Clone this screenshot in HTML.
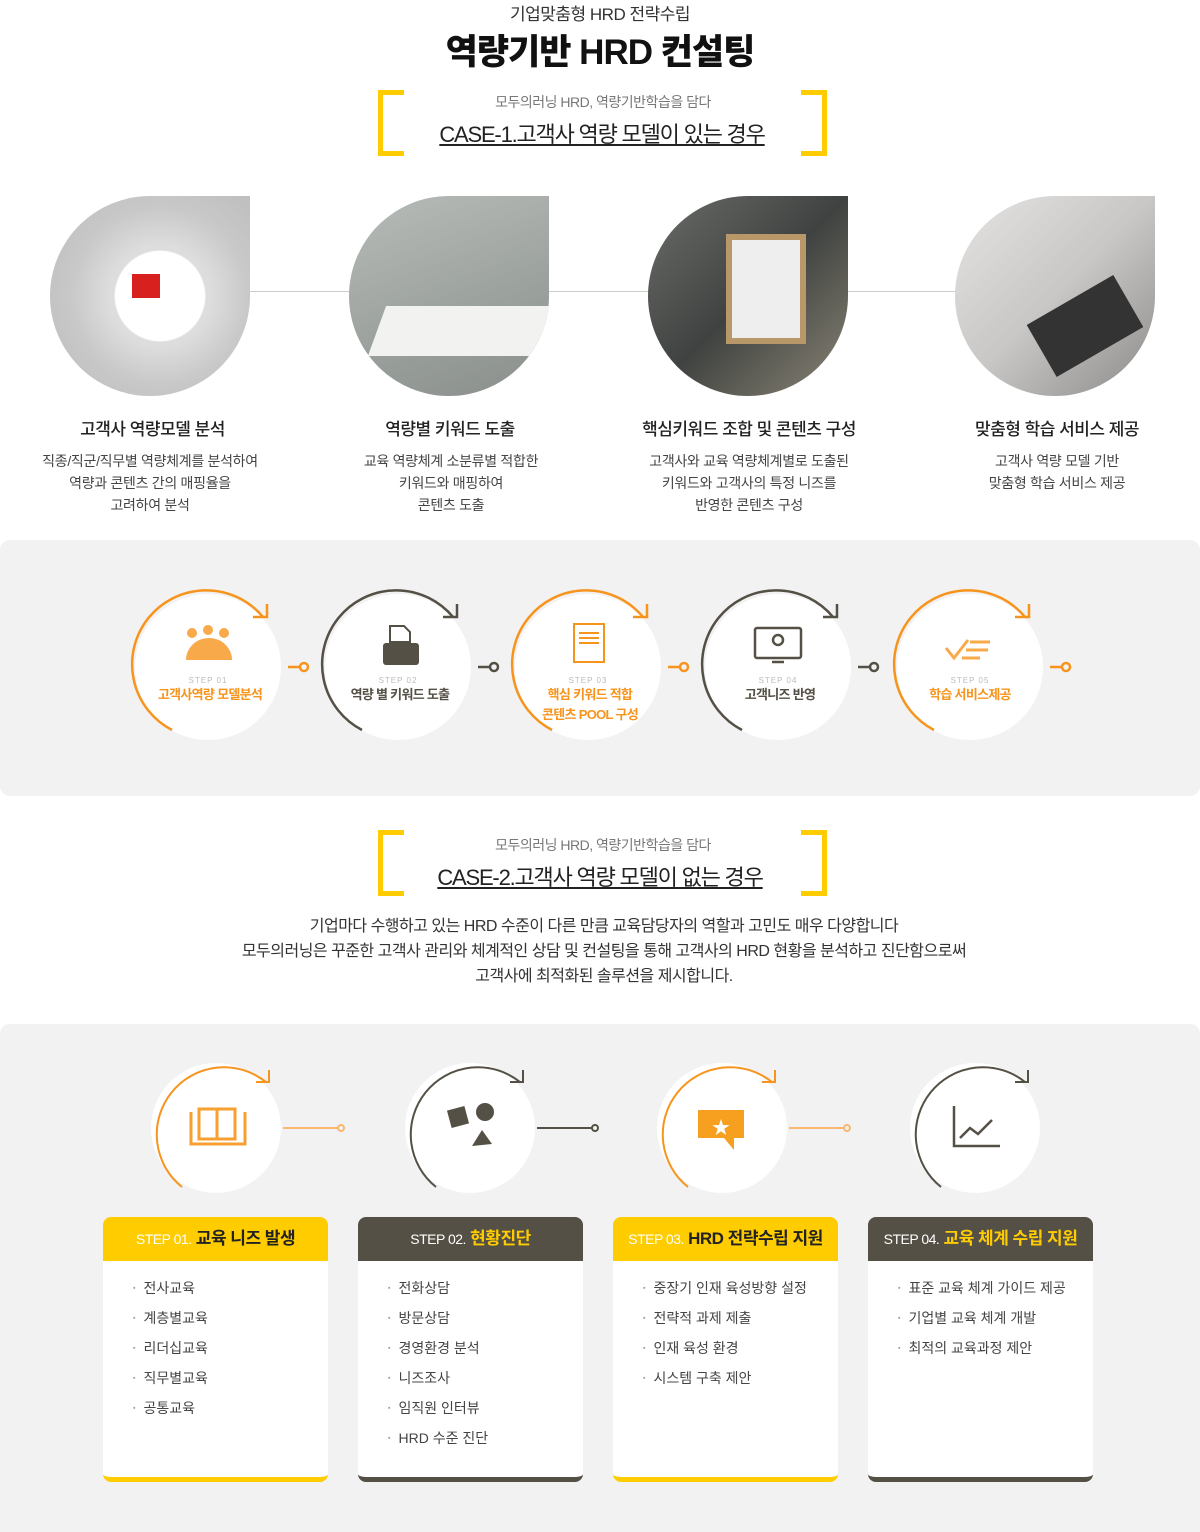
<!DOCTYPE html>
<html><head><meta charset="utf-8"><style>
*{margin:0;padding:0;box-sizing:border-box}
body{width:1200px;height:1532px;background:#fff;font-family:"Liberation Sans","Noto Sans CJK KR",sans-serif;color:#333;position:relative;overflow:hidden}
.a{position:absolute}
.c{text-align:center}
.br{position:absolute;width:26px;height:66px;border:5px solid #ffcc00}
.photo{position:absolute;width:200px;height:200px;border-radius:50% 0 50% 50%;overflow:hidden}
.t1{font-size:17px;color:#222;font-weight:500;letter-spacing:-.5px}
.d1{font-size:14px;color:#444;line-height:22px;letter-spacing:-.3px}
.card{position:absolute;width:225px;height:265px;border-radius:8px;overflow:hidden;background:#fff}
.card .h{height:44px;line-height:44px;text-align:center;font-size:17px;font-weight:700;letter-spacing:-.5px}
.card .h small{font-size:14px;font-weight:400;color:#fff;letter-spacing:-.5px}
.card ul{list-style:none;padding:18px 0 0 30px;font-size:14px;color:#444}
.card li{height:30px;line-height:18px}
.card li:before{content:"▪";font-size:7px;color:#999;margin-right:8px;vertical-align:middle}
</style></head><body>

<div class="a c" style="left:0;width:1200px;top:0;font-size:17px;color:#333;letter-spacing:-.5px">기업맞춤형 HRD 전략수립</div>
<div class="a c" style="left:0;width:1200px;top:24px;font-size:35px;font-weight:900;color:#111;letter-spacing:-1px">역량기반 HRD 컨설팅</div>

<div class="br" style="left:378px;top:90px;border-right:none"></div>
<div class="br" style="left:801px;top:90px;border-left:none"></div>
<div class="a c" style="left:0;width:1206px;top:92px;font-size:14px;color:#777;letter-spacing:-.5px">모두의러닝 HRD, 역량기반학습을 담다</div>
<div class="a c" style="left:0;width:1204px;top:117px;font-size:22px;color:#222;text-decoration:underline;letter-spacing:-1.2px">CASE-1.고객사 역량 모델이 있는 경우</div>

<div class="a" style="left:250px;top:291px;width:710px;height:1px;background:#ccc"></div>
<div class="photo" style="left:50px;top:196px;background:radial-gradient(circle at 55% 50%,#fff 0 30%,#ddd 31% 34%,#c8c8c8 60%,#bbb)"><div class="a" style="left:82px;top:78px;width:28px;height:24px;background:#d8201f"></div></div>
<div class="photo" style="left:349px;top:196px;background:linear-gradient(160deg,#b8bcb8,#9aa09c 60%,#8a8f8b)"><div class="a" style="left:28px;top:110px;width:175px;height:50px;background:#f2f2f0;transform:skewX(-20deg)"></div></div>
<div class="photo" style="left:648px;top:196px;background:linear-gradient(135deg,#6b6d6a,#3f4240 50%,#8a8576)"><div class="a" style="left:78px;top:38px;width:80px;height:110px;background:#eee;border:6px solid #b89868"></div></div>
<div class="photo" style="left:955px;top:196px;background:linear-gradient(135deg,#e5e4e2,#c9c7c5 50%,#8b8a88)"><div class="a" style="left:80px;top:100px;width:100px;height:60px;background:#333;transform:rotate(-30deg)"></div></div>

<div class="a c t1" style="left:50px;width:205px;top:415px">고객사 역량모델 분석</div>
<div class="a c d1" style="left:0;width:300px;top:450px">직종/직군/직무별 역량체계를 분석하여<br>역량과 콘텐츠 간의 매핑율을<br>고려하여 분석</div>
<div class="a c t1" style="left:300px;width:300px;top:415px">역량별 키워드 도출</div>
<div class="a c d1" style="left:300px;width:302px;top:450px">교육 역량체계 소분류별 적합한<br>키워드와 매핑하여<br>콘텐츠 도출</div>
<div class="a c t1" style="left:599px;width:300px;top:415px">핵심키워드 조합 및 콘텐츠 구성</div>
<div class="a c d1" style="left:599px;width:300px;top:450px">고객사와 교육 역량체계별로 도출된<br>키워드와 고객사의 특정 니즈를<br>반영한 콘텐츠 구성</div>
<div class="a c t1" style="left:907px;width:300px;top:415px">맞춤형 학습 서비스 제공</div>
<div class="a c d1" style="left:907px;width:300px;top:450px">고객사 역량 모델 기반<br>맞춤형 학습 서비스 제공</div>

<div class="a" style="left:0;top:540px;width:1200px;height:256px;background:#f2f2f2;border-radius:10px"></div>
<svg class="a" style="left:0;top:540px" width="1200" height="256">
<g fill="none" stroke-width="2.5">
<g transform="translate(208,127)"><circle r="73" fill="#fff" stroke="none"/><path d="M-36,63 A74,74 0 1 1 55,-50" stroke="#f7941d"/><path d="M45,-50 L59,-50 L59,-63" stroke="#f7941d"/><path d="M80,0 h12" stroke="#f7941d"/><circle cx="96" cy="0" r="4" stroke="#f7941d"/></g>
<g transform="translate(398,127)"><circle r="73" fill="#fff" stroke="none"/><path d="M-36,63 A74,74 0 1 1 55,-50" stroke="#555045"/><path d="M45,-50 L59,-50 L59,-63" stroke="#555045"/><path d="M80,0 h12" stroke="#555045"/><circle cx="96" cy="0" r="4" stroke="#555045"/></g>
<g transform="translate(588,127)"><circle r="73" fill="#fff" stroke="none"/><path d="M-36,63 A74,74 0 1 1 55,-50" stroke="#f7941d"/><path d="M45,-50 L59,-50 L59,-63" stroke="#f7941d"/><path d="M80,0 h12" stroke="#f7941d"/><circle cx="96" cy="0" r="4" stroke="#f7941d"/></g>
<g transform="translate(778,127)"><circle r="73" fill="#fff" stroke="none"/><path d="M-36,63 A74,74 0 1 1 55,-50" stroke="#555045"/><path d="M45,-50 L59,-50 L59,-63" stroke="#555045"/><path d="M80,0 h12" stroke="#555045"/><circle cx="96" cy="0" r="4" stroke="#555045"/></g>
<g transform="translate(970,127)"><circle r="73" fill="#fff" stroke="none"/><path d="M-36,63 A74,74 0 1 1 55,-50" stroke="#f7941d"/><path d="M45,-50 L59,-50 L59,-63" stroke="#f7941d"/><path d="M80,0 h12" stroke="#f7941d"/><circle cx="96" cy="0" r="4" stroke="#f7941d"/></g>
</g>
<g fill="#f8a94a"><circle cx="192" cy="93" r="5"/><circle cx="208" cy="90" r="5"/><circle cx="224" cy="93" r="5"/><path d="M186,120 A23,22 0 0 1 232,120 Z"/></g>
<g fill="#555045"><rect x="383" y="103" width="36" height="22" rx="3"/><path d="M390,86 h14 l6,6 v10 h-20z" fill="none" stroke="#555045" stroke-width="2"/></g>
<g fill="none" stroke="#f7941d" stroke-width="2"><rect x="574" y="84" width="30" height="38"/><path d="M579,93 h20 M579,98 h20 M579,103 h20"/></g>
<g fill="none" stroke="#555045" stroke-width="2.5"><rect x="755" y="88" width="46" height="30" rx="2"/><path d="M772,122 h12"/><circle cx="778" cy="100" r="5"/></g>
<g fill="none" stroke="#f8a94a" stroke-width="3"><path d="M946,108 l8,10 l14,-18"/><path d="M970,102 h20 M966,110 h22 M962,118 h18"/></g>
<g font-size="8" fill="#bbb" text-anchor="middle" letter-spacing="1"><text x="208" y="143">STEP 01</text><text x="398" y="143">STEP 02</text><text x="588" y="143">STEP 03</text><text x="778" y="143">STEP 04</text><text x="970" y="143">STEP 05</text></g>
<g font-size="13" font-weight="700" text-anchor="middle" letter-spacing="-.7"><text x="210" y="159" fill="#f7941d">고객사역량 모델분석</text><text x="400" y="159" fill="#555045">역량 별 키워드 도출</text><text x="590" y="159" fill="#f7941d">핵심 키워드 적합</text><text x="590" y="179" fill="#f7941d">콘텐츠 POOL 구성</text><text x="780" y="159" fill="#555045">고객니즈 반영</text><text x="970" y="159" fill="#f7941d">학습 서비스제공</text></g>
</svg>

<div class="br" style="left:378px;top:830px;border-right:none"></div>
<div class="br" style="left:801px;top:830px;border-left:none"></div>
<div class="a c" style="left:0;width:1206px;top:835px;font-size:14px;color:#777;letter-spacing:-.5px">모두의러닝 HRD, 역량기반학습을 담다</div>
<div class="a c" style="left:0;width:1200px;top:860px;font-size:22px;color:#222;text-decoration:underline;letter-spacing:-1.2px">CASE-2.고객사 역량 모델이 없는 경우</div>
<div class="a c" style="left:0;width:1208px;top:914px;font-size:16px;color:#333;line-height:25px;letter-spacing:-.5px">기업마다 수행하고 있는 HRD 수준이 다른 만큼 교육담당자의 역할과 고민도 매우 다양합니다<br>모두의러닝은 꾸준한 고객사 관리와 체계적인 상담 및 컨설팅을 통해 고객사의 HRD 현황을 분석하고 진단함으로써<br>고객사에 최적화된 솔루션을 제시합니다.</div>

<div class="a" style="left:0;top:1024px;width:1200px;height:508px;background:#f2f2f2;border-radius:10px 10px 0 0"></div>
<svg class="a" style="left:0;top:1024px" width="1200" height="180">
<g fill="none" stroke-width="2">
<g transform="translate(216,104)"><circle r="65" fill="#fff" stroke="none"/><path d="M-34,59 A67,67 0 1 1 50,-46" stroke="#f7941d"/><path d="M40,-46 L53,-46 L53,-58" stroke="#f7941d"/><path d="M67,0 h55" stroke="#f8b870"/><circle cx="125" cy="0" r="3" stroke="#f8b870"/></g>
<g transform="translate(470,104)"><circle r="65" fill="#fff" stroke="none"/><path d="M-34,59 A67,67 0 1 1 50,-46" stroke="#555045"/><path d="M40,-46 L53,-46 L53,-58" stroke="#555045"/><path d="M67,0 h55" stroke="#555045"/><circle cx="125" cy="0" r="3" stroke="#555045"/></g>
<g transform="translate(722,104)"><circle r="65" fill="#fff" stroke="none"/><path d="M-34,59 A67,67 0 1 1 50,-46" stroke="#f7941d"/><path d="M40,-46 L53,-46 L53,-58" stroke="#f7941d"/><path d="M67,0 h55" stroke="#f8b870"/><circle cx="125" cy="0" r="3" stroke="#f8b870"/></g>
<g transform="translate(975,104)"><circle r="65" fill="#fff" stroke="none"/><path d="M-34,59 A67,67 0 1 1 50,-46" stroke="#555045"/><path d="M40,-46 L53,-46 L53,-58" stroke="#555045"/></g>
</g>
<g fill="none" stroke="#f7a030" stroke-width="3"><rect x="199" y="85" width="36" height="30"/><path d="M217,85 v30 M191,88 v32 h54 v-32"/></g>
<g fill="#555045"><rect x="449" y="84" width="18" height="18" transform="rotate(-15 458 93)"/><circle cx="485" cy="88" r="9"/><path d="M472,122 l10,-16 l10,14z"/></g>
<g fill="#f7a020"><path d="M698,86 h46 v28 h-10 v12 l-10,-12 h-26z"/></g><text x="721" y="110" fill="#fff" font-size="18" text-anchor="middle">★</text>
<g fill="none" stroke="#555045" stroke-width="2.5"><path d="M954,82 v40 h46"/><path d="M960,114 l10,-10 l8,6 l14,-14"/></g>
</svg>

<div class="card" style="left:103px;top:1217px;border-bottom:5px solid #ffcc00"><div class="h" style="background:#ffcc00;color:#222"><small>STEP 01.</small> 교육 니즈 발생</div><ul><li>전사교육</li><li>계층별교육</li><li>리더십교육</li><li>직무별교육</li><li>공통교육</li></ul></div>
<div class="card" style="left:358px;top:1217px;border-bottom:5px solid #555045"><div class="h" style="background:#555045;color:#ffcc00"><small>STEP 02.</small> 현황진단</div><ul><li>전화상담</li><li>방문상담</li><li>경영환경 분석</li><li>니즈조사</li><li>임직원 인터뷰</li><li>HRD 수준 진단</li></ul></div>
<div class="card" style="left:613px;top:1217px;border-bottom:5px solid #ffcc00"><div class="h" style="background:#ffcc00;color:#222"><small>STEP 03.</small> HRD 전략수립 지원</div><ul><li>중장기 인재 육성방향 설정</li><li>전략적 과제 제출</li><li>인재 육성 환경</li><li>시스템 구축 제안</li></ul></div>
<div class="card" style="left:868px;top:1217px;border-bottom:5px solid #555045"><div class="h" style="background:#555045;color:#ffcc00"><small>STEP 04.</small> 교육 체계 수립 지원</div><ul><li>표준 교육 체계 가이드 제공</li><li>기업별 교육 체계 개발</li><li>최적의 교육과정 제안</li></ul></div>
</body></html>
